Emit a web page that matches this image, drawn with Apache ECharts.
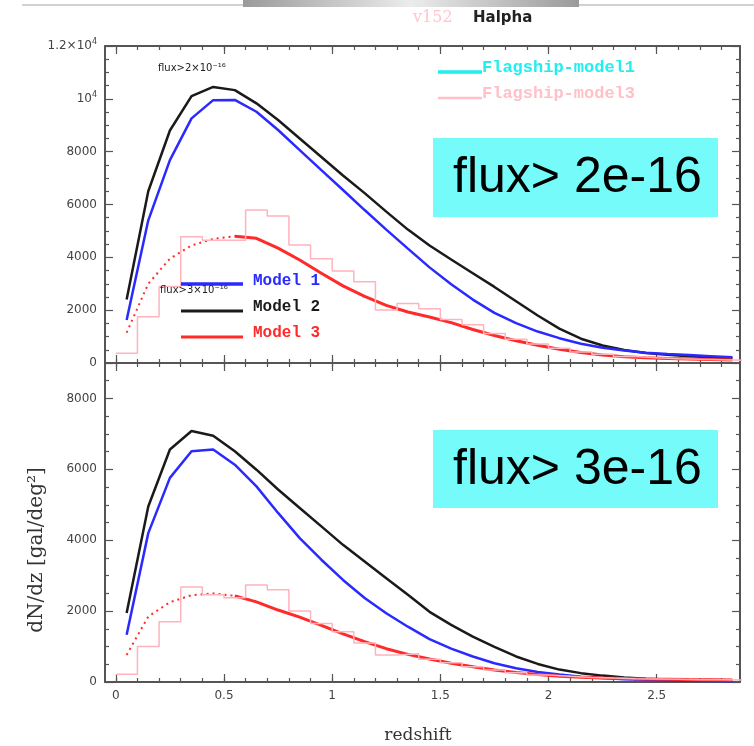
<!DOCTYPE html>
<html><head><meta charset="utf-8">
<script src="https://cdn.jsdelivr.net/npm/echarts@6/dist/echarts.min.js"></script>
<style>html,body{margin:0;padding:0;background:#fff}#c{width:754px;height:746px}</style>
</head><body><div id="c"></div>
<script>
// ---- data ----
const redshift = [0.05,0.15,0.25,0.35,0.45,0.55,0.65,0.75,0.85,0.95,1.05,1.15,1.25,1.35,1.45,1.55,1.65,1.75,1.85,1.95,2.05,2.15,2.25,2.35,2.45,2.55,2.65,2.75,2.85];
const topModel1 = [1630,5400,7680,9260,9950,9960,9510,8820,8060,7300,6550,5790,5050,4330,3620,2980,2400,1900,1510,1190,940,730,580,470,390,340,300,260,220];
const topModel2 = [2400,6500,8800,10100,10450,10330,9830,9200,8500,7800,7100,6430,5730,5050,4450,3920,3400,2880,2340,1800,1300,920,660,490,375,310,260,220,180];
const topModel3 = [1150,3000,3950,4450,4700,4800,4720,4350,3900,3400,2920,2520,2180,1930,1740,1530,1270,1040,840,670,520,400,300,235,200,170,150,130,115];
const binEdges = [0,0.1,0.2,0.3,0.4,0.5,0.6,0.7,0.8,0.9,1.0,1.1,1.2,1.3,1.4,1.5,1.6,1.7,1.8,1.9,2.0,2.1,2.2,2.3,2.4,2.5,2.6,2.7,2.8,2.9];
const topFlagship3 = [370,1750,2900,4780,4650,4650,5790,5560,4470,3950,3480,3080,2010,2250,2050,1650,1450,1120,900,720,560,420,330,250,200,160,140,120,100];
const botModel1 = [1330,4200,5760,6510,6560,6130,5520,4770,4060,3450,2880,2370,1940,1560,1210,940,720,530,390,280,210,150,110,80,60,45,35,28,22];
const botModel2 = [1950,4950,6560,7080,6950,6510,5990,5430,4910,4390,3870,3400,2930,2460,1980,1610,1280,990,720,510,350,250,180,130,95,70,50,40,30];
const botModel3 = [760,1850,2250,2450,2500,2430,2260,2030,1830,1600,1360,1140,940,780,650,530,430,340,270,210,165,135,115,100,88,78,68,62,56];
const botFlagship3 = [220,1000,1700,2680,2460,2380,2740,2600,2000,1650,1420,1100,760,800,640,540,430,340,260,200,160,130,110,95,85,75,65,60,55];
const xMajorTicks = [0,0.5,1,1.5,2,2.5];
const xMinorTicks = [0,0.1,0.2,0.3,0.4,0.5,0.6,0.7,0.8,0.9,1,1.1,1.2,1.3,1.4,1.5,1.6,1.7,1.8,1.9,2,2.1,2.2,2.3,2.4,2.5,2.6,2.7,2.8];
const topYTicks = [0,2000,4000,6000,8000,10000,12000];
const topYMinor = [500,1000,1500,2500,3000,3500,4500,5000,5500,6500,7000,7500,8500,9000,9500,10500,11000,11500];
const botYTicks = [0,2000,4000,6000,8000];
const botYMinor = [500,1000,1500,2500,3000,3500,4500,5000,5500,6500,7000,7500,8500];
const solidFromIndex = 5; // Model 3 drawn solid from z=0.55

// ---- layout ----
const X_MIN = -0.05, X_MAX = 2.885;
const AX = '#555';
const grids = [
  {left:105, top:46, width:635, height:317},
  {left:105, top:363, width:635, height:319}
];
function yLabel(v){
  if (v === 10000) return '10{s|4}';
  if (v === 12000) return '1.2×10{s|4}';
  return String(v);
}
function xAx(g, pos, ticks, len, line, labels){
  return {type:'value', gridIndex:g, position:pos, min:X_MIN, max:X_MAX,
    axisLine:{show:line, onZero:false, lineStyle:{color:AX, width:2}},
    axisTick:{show:true, inside:true, length:len, customValues:ticks, lineStyle:{color:AX, width:1.2}},
    axisLabel: labels ? {show:true, customValues:ticks, color:'#444', fontSize:12, fontFamily:'DejaVu Sans', margin:8,
       formatter:v=>String(v)} : {show:false},
    splitLine:{show:false}};
}
function yAx(g, pos, max, ticks, len, line, labels){
  return {type:'value', gridIndex:g, position:pos, min:0, max:max,
    axisLine:{show:line, onZero:false, lineStyle:{color:AX, width:2}},
    axisTick:{show:true, inside:true, length:len, customValues:ticks, lineStyle:{color:AX, width:1.2}},
    axisLabel: labels ? {show:true, customValues:ticks, color:'#444', fontSize:12, fontFamily:'DejaVu Sans', margin:8,
       formatter:yLabel, rich:{s:{fontSize:8, fontFamily:'DejaVu Sans', color:'#444', verticalAlign:'top', padding:[0,0,8,0]}}} : {show:false},
    splitLine:{show:false}};
}
const xAxes = [], yAxes = [];
[0,1].forEach(g=>{
  xAxes.push(xAx(g,'bottom',xMajorTicks,8,true,g===1));
  xAxes.push(xAx(g,'bottom',xMinorTicks,4,false,false));
  xAxes.push(xAx(g,'top',xMajorTicks,8,true,false));
  xAxes.push(xAx(g,'top',xMinorTicks,4,false,false));
  const max = g===0 ? 12000 : 9000;
  const maj = g===0 ? topYTicks : botYTicks;
  const mn = g===0 ? topYMinor : botYMinor;
  yAxes.push(yAx(g,'left',max,maj,8,true,true));
  yAxes.push(yAx(g,'left',max,mn,4,false,false));
  yAxes.push(yAx(g,'right',max,maj,8,true,false));
  yAxes.push(yAx(g,'right',max,mn,4,false,false));
});

function pts(ys){ return redshift.map((z,i)=>[z, ys[i]]); }
function histPts(vals){ return binEdges.map((e,i)=>[e, vals[Math.min(i, vals.length-1)]]); }
function panelSeries(g, m1, m2, m3, f3){
  const xi = g*4, yi = g*4;
  const base = {type:'line', xAxisIndex:xi, yAxisIndex:yi, symbol:'none', silent:true, animation:false};
  const all3 = pts(m3);
  return [
    Object.assign({}, base, {name:'Model 2', data:pts(m2), lineStyle:{color:'#1a1a1a', width:2.5}}),
    Object.assign({}, base, {name:'Model 1', data:pts(m1), lineStyle:{color:'#2a2aff', width:2.5}}),
    Object.assign({}, base, {name:'Model 3 dotted', data:all3, lineStyle:{color:'#ff2a2a', width:2, type:[2,4]}}),
    Object.assign({}, base, {name:'Model 3', data:all3.slice(solidFromIndex), lineStyle:{color:'#ff2a2a', width:3}}),
    Object.assign({}, base, {name:'Flagship-model3', data:histPts(f3), step:'end', lineStyle:{color:'#ffb3bd', width:1.5}})
  ];
}
const series = panelSeries(0, topModel1, topModel2, topModel3, topFlagship3)
  .concat(panelSeries(1, botModel1, botModel2, botModel3, botFlagship3));

function txt(x,y,t,font,fill,align){ return {type:'text', x:x, y:y, z:103, style:{text:t, font:font, fill:fill, align:align||'left', verticalAlign:'middle'}}; }
function seg(x1,y1,x2,y2,c,w){ return {type:'line', z:100, shape:{x1:x1,y1:y1,x2:x2,y2:y2}, style:{stroke:c, lineWidth:w}}; }
const graphic = [
  seg(22,5,754,5,'#d2d2d2',2),
  {type:'rect', z:101, shape:{x:243,y:0,width:336,height:7}, style:{fill:new echarts.graphic.LinearGradient(0,0,1,0,[{offset:0,color:'#9a9a9a'},{offset:0.5,color:'#ececec'},{offset:1,color:'#9a9a9a'}])}},
  txt(413,18,'v152','16px DejaVu Serif','#ffc6cf'),
  txt(473,18,'Halpha','bold 15px DejaVu Sans','#222'),
  txt(158,68,'flux>2×10⁻¹⁶','10px DejaVu Sans','#222'),
  txt(160,290,'flux>3×10⁻¹⁶','10px DejaVu Sans','#222'),
  seg(181,284,243,284,'#2a2aff',3.5),
  txt(253,281,'Model 1','bold 16px Liberation Mono','#2a2aff'),
  seg(181,311,243,311,'#1a1a1a',3),
  txt(253,307,'Model 2','bold 16px Liberation Mono','#1a1a1a'),
  seg(181,337,243,337,'#ff2a2a',3),
  txt(253,333,'Model 3','bold 16px Liberation Mono','#ff2a2a'),
  seg(438,72,482,72,'#22eeee',3.5),
  txt(482,68,'Flagship-model1','bold 17px Liberation Mono','#22eeee'),
  seg(438,98,482,98,'#ffc0c8',2.5),
  txt(482,94,'Flagship-model3','bold 17px Liberation Mono','#ffc0c8'),
  {type:'rect', z:102, shape:{x:433,y:138,width:285,height:79}, style:{fill:'#76fbfb'}},
  txt(453,178,'flux> 2e-16','50px Liberation Sans','#000'),
  {type:'rect', z:102, shape:{x:433,y:430,width:285,height:78}, style:{fill:'#76fbfb'}},
  txt(453,470,'flux> 3e-16','50px Liberation Sans','#000'),
  {type:'text', x:37, y:550, z:103, rotation:Math.PI/2, style:{text:'dN/dz [gal/deg²]', font:'20px DejaVu Serif', fill:'#333', align:'center', verticalAlign:'middle'}},
  txt(418,736,'redshift','17px DejaVu Serif','#333','center')
];

const chart = echarts.init(document.getElementById('c'), null, {renderer:'canvas'});
chart.setOption({animation:false, backgroundColor:'#fff', grid:grids, xAxis:xAxes, yAxis:yAxes, series:series, graphic:graphic});
</script></body></html>
